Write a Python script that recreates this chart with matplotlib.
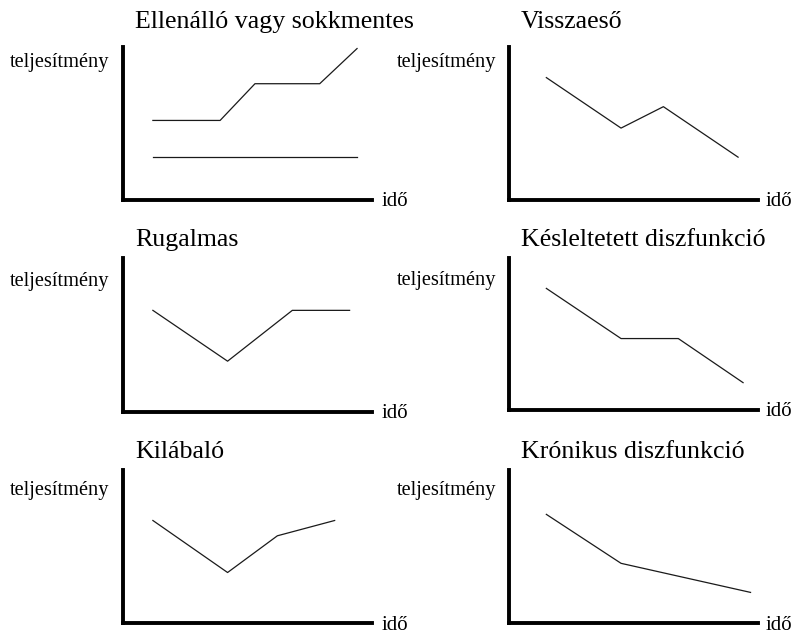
import matplotlib.pyplot as plt

plt.rcParams['font.family'] = ['Liberation Serif', 'DejaVu Serif']

W, H = 795, 636

titles = ['Ellenálló vagy sokkmentes', 'Visszaeső', 'Rugalmas',
          'Késleltetett diszfunkció', 'Kilábaló', 'Krónikus diszfunkció']
y_label = 'teljesítmény'
x_label = 'idő'

# time (x) and performance (y), both on a 0-10 scale
ellenallo_x = [1.2, 3.9, 5.3, 7.9, 9.4]
ellenallo_y = [5.2, 5.2, 7.6, 7.6, 9.9]
sokkmentes_x = [1.2, 9.4]
sokkmentes_y = [2.8, 2.8]
visszaeso_x = [1.5, 4.5, 6.2, 9.2]
visszaeso_y = [8.0, 4.7, 6.1, 2.8]
rugalmas_x = [1.2, 4.2, 6.8, 9.1]
rugalmas_y = [6.6, 3.3, 6.6, 6.6]
kesleltetett_x = [1.5, 4.5, 6.8, 9.4]
kesleltetett_y = [8.0, 4.7, 4.7, 1.8]
kilabalo_x = [1.2, 4.2, 6.2, 8.5]
kilabalo_y = [6.7, 3.3, 5.7, 6.7]
kronikus_x = [1.5, 4.5, 9.7]
kronikus_y = [7.1, 3.9, 2.0]

series = [
    [(ellenallo_x, ellenallo_y), (sokkmentes_x, sokkmentes_y)],
    [(visszaeso_x, visszaeso_y)],
    [(rugalmas_x, rugalmas_y)],
    [(kesleltetett_x, kesleltetett_y)],
    [(kilabalo_x, kilabalo_y)],
    [(kronikus_x, kronikus_y)],
]

# panel boxes in pixels: left, top, right, bottom
boxes = [(123, 47, 372, 200), (509, 47, 758, 200),
         (123, 258, 372, 412), (509, 258, 758, 410),
         (123, 470, 372, 623), (509, 470, 758, 623)]
title_y = [22, 22, 240, 240, 452, 452]
ylab_y = [63, 62, 281, 280, 491, 490]
xlab_dy = [1, 1, 1, 1, 2, 2]
xlab_dx = [10, 8, 10, 8, 10, 8]

fig = plt.figure(figsize=(W / 100, H / 100), dpi=100)

for i, (l, t, r, b) in enumerate(boxes):
    ax = fig.add_axes([l / W, 1 - b / H, (r - l) / W, (b - t) / H])
    for xs, ys in series[i]:
        ax.plot(xs, ys, color='#1a1a1a', lw=0.9, clip_on=False)
    ax.set_xlim(0, 10)
    ax.set_ylim(0, 10)
    ax.set_xticks([])
    ax.set_yticks([])
    ax.spines['top'].set_visible(False)
    ax.spines['right'].set_visible(False)
    for s in ['left', 'bottom']:
        ax.spines[s].set_linewidth(2.8)
        ax.spines[s].set_capstyle('projecting')
    ax.patch.set_visible(False)

    tx = 135 if i % 2 == 0 else 521
    fig.text(tx / W, 1 - title_y[i] / H, titles[i], fontsize=18.6,
             ha='left', va='center')
    lx = 10 if i % 2 == 0 else 397
    fig.text(lx / W, 1 - ylab_y[i] / H, y_label, fontsize=14.7,
             ha='left', va='center')
    fig.text((r + xlab_dx[i]) / W, 1 - (b + xlab_dy[i]) / H, x_label,
             fontsize=15, ha='left', va='center')

plt.savefig('out.png', dpi=100)
